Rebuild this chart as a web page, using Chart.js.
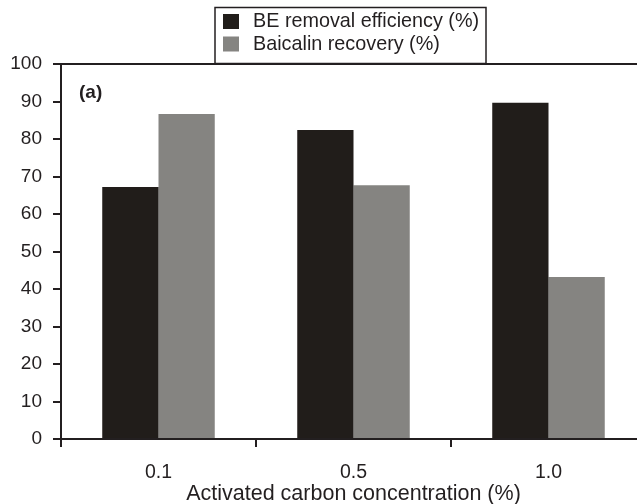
<!DOCTYPE html>
<html>
<head>
<meta charset="utf-8">
<script src="https://cdn.jsdelivr.net/npm/chart.js@4"></script>
<style>
  html, body { margin: 0; padding: 0; background: #fff; overflow: hidden; }
  #grafica { display: block; }
</style>
</head>
<body>
<canvas id="grafica" width="646" height="504" style="width:646px;height:504px"></canvas>
<script>
// Datos
const categorias = ['0.1', '0.5', '1.0'];
const eficienciaBE = [67.2, 82.4, 89.7];
const recuperacionBaicalina = [86.7, 67.7, 43.2];
const etiquetasSeries = ['BE removal efficiency (%)', 'Baicalin recovery (%)'];
const tituloEjeX = 'Activated carbon concentration (%)';
const etiquetaPanel = '(a)';

const negro = '#231f20';
const fuente = "'Liberation Sans', Arial, Helvetica, sans-serif";

// Leyenda con caja, dibujada a mano encima del área
const leyendaCaja = {
    id: 'leyendaCaja',
    afterDraw(chart) {
        const ctx = chart.ctx;
        ctx.save();
        ctx.strokeStyle = negro;
        ctx.lineWidth = 1.5;
        ctx.strokeRect(215, 7.5, 271, 56);
        ctx.font = '19.8px ' + fuente;
        ctx.textBaseline = 'middle';
        chart.data.datasets.forEach((ds, i) => {
            const y = 21.5 + i * 22.5;
            ctx.fillStyle = ds.backgroundColor;
            ctx.fillRect(223, y - 7.5, 16, 15);
            ctx.fillStyle = negro;
            ctx.fillText(ds.label, 253, y + 0.5);
        });
        // etiqueta del panel
        ctx.font = 'bold 19px ' + fuente;
        ctx.fillText(etiquetaPanel, 79, 93);
        ctx.restore();
    }
};

new Chart(document.getElementById('grafica'), {
    type: 'bar',
    data: {
        labels: categorias,
        datasets: [{
            label: etiquetasSeries[0],
            data: eficienciaBE,
            backgroundColor: '#211d1a'
        }, {
            label: etiquetasSeries[1],
            data: recuperacionBaicalina,
            backgroundColor: '#858481'
        }]
    },
    options: {
        responsive: false,
        devicePixelRatio: 1,
        animation: false,
        categoryPercentage: 0.577,
        barPercentage: 1,
        layout: { padding: { top: 64, right: 0, left: 0, bottom: 0 } },
        plugins: {
            legend: { display: false },
            tooltip: { enabled: false }
        },
        scales: {
            x: {
                afterFit: s => { s.height = 65; },
                grid: {
                    drawOnChartArea: false,
                    offset: true,
                    tickLength: 8,
                    color: negro,
                    lineWidth: 2
                },
                border: { display: true, color: negro, width: 2 },
                ticks: {
                    color: negro,
                    padding: 14,
                    font: { family: fuente, size: 19.5 }
                },
                title: {
                    display: true,
                    text: tituloEjeX,
                    color: negro,
                    padding: { top: 0, bottom: 0 },
                    font: { family: fuente, size: 21.5, lineHeight: 0.88 }
                }
            },
            y: {
                min: 0,
                max: 100,
                afterFit: s => { s.width = 61; },
                grid: {
                    tickLength: 8,
                    lineWidth: 2,
                    color: c => (c.tick && c.tick.value === 100) ? negro : 'rgba(0,0,0,0)',
                    tickColor: negro
                },
                border: { display: true, color: negro, width: 2 },
                ticks: {
                    stepSize: 10,
                    color: negro,
                    padding: 11,
                    font: { family: fuente, size: 19 }
                }
            }
        }
    },
    plugins: [leyendaCaja]
});
</script>
</body>
</html>
